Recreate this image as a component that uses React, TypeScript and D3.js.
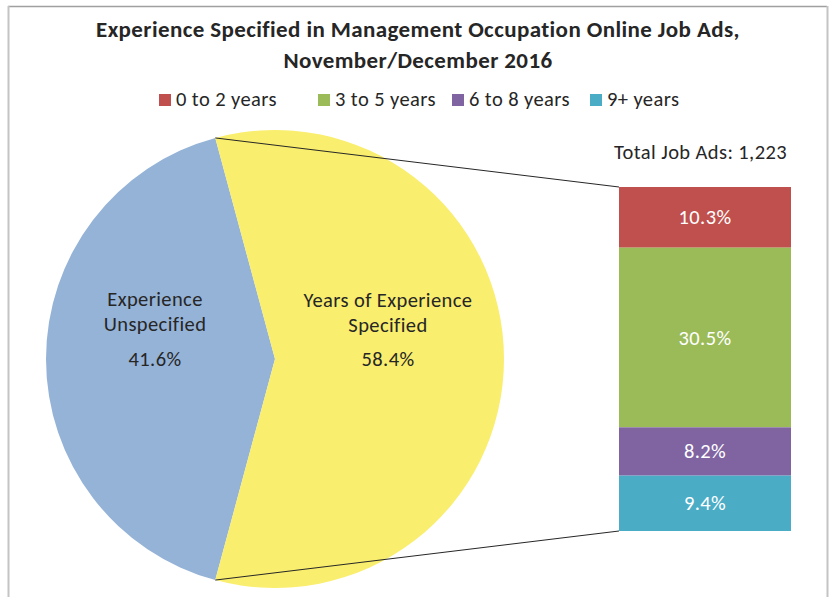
import React from "react";
import * as d3 from "d3";

const title1 = "Experience Specified in Management Occupation Online Job Ads,";
const title2 = "November/December 2016";
const pieLabels = [["Experience", "Unspecified"], ["Years of Experience", "Specified"]];
const pieValues = [41.6, 58.4];
const pieColors = ["#95B3D7", "#F9EE6E"];
const barCategories = ["0 to 2 years", "3 to 5 years", "6 to 8 years", "9+ years"];
const barValues = [10.3, 30.5, 8.2, 9.4];
const barColors = ["#C0504D", "#9BBB59", "#8064A2", "#4BACC6"];
const totalLabel = "Total Job Ads: 1,223";

const W = 831, H = 597;
const FONT = "Carlito, Lato, 'Open Sans', sans-serif";
const FS = 20.5;
const LS = 0.4;

export default function App() {
  const cx = 275, cy = 359, r = 229;
  const blueSpan = (pieValues[0] / 100) * 2 * Math.PI;
  const blueStart = 1.5 * Math.PI - blueSpan / 2;
  const arcs = d3.pie<number>().sort(null).startAngle(blueStart).endAngle(blueStart + 2 * Math.PI)(pieValues);
  const arcGen = d3.arc<d3.PieArcDatum<number>>().innerRadius(0).outerRadius(r);

  const barX0 = 619, barX1 = 791, barTop = 187, barBottom = 531;
  const sum = d3.sum(barValues);
  const y = d3.scaleLinear().domain([0, sum]).range([barTop, barBottom]);
  const cum = d3.cumsum(barValues);
  const segs = barValues.map((v, i) => ({ v, i, y0: y(cum[i] - v), y1: y(cum[i]) }));

  const aTop = arcs[0].endAngle;
  const aBot = arcs[0].startAngle;
  const pt = (a: number) => [cx + r * Math.sin(a), cy - r * Math.cos(a)];
  const pTop = pt(aTop), pBot = pt(aBot);

  const legendX = [159, 318, 452, 590];

  const labelPos = [
    { x: 155, lines: [305.5, 330.5], pct: 365.5 },
    { x: 388, lines: [307, 332], pct: 365.5 },
  ];

  return (
    <svg width={W} height={H} style={{ position: "absolute", left: 0, top: 0 }} fontFamily={FONT} letterSpacing={LS}>
      <rect x={0} y={0} width={W} height={H} fill="#fff" />
      <line x1={8} y1={6.5} x2={827} y2={6.5} stroke="#a0a0a0" strokeWidth={1.5} />
      <line x1={8.5} y1={6} x2={8.5} y2={H} stroke="#c4c4c4" strokeWidth={2} />
      <line x1={827.5} y1={6} x2={827.5} y2={H} stroke="#c4c4c4" strokeWidth={2} />

      <text x={418} y={37} textAnchor="middle" fontWeight="bold" fontSize={23} fill="#262626">{title1}</text>
      <text x={418} y={67.5} textAnchor="middle" fontWeight="bold" fontSize={23} fill="#262626">{title2}</text>

      {barCategories.map((c, i) => (
        <g key={c}>
          <rect x={legendX[i]} y={94} width={12} height={12} fill={barColors[i]} />
          <text x={legendX[i] + 17} y={106} fontSize={FS} fill="#262626">{c}</text>
        </g>
      ))}

      <g transform={`translate(${cx},${cy})`}>
        {arcs.map((a, i) => (
          <path key={i} d={arcGen(a) || ""} fill={pieColors[i]} />
        ))}
      </g>

      {pieLabels.map((ls, i) => (
        <g key={i} fontSize={FS} fill="#262626" textAnchor="middle">
          {ls.map((l, j) => (
            <text key={j} x={labelPos[i].x} y={labelPos[i].lines[j]}>{l}</text>
          ))}
          <text x={labelPos[i].x} y={labelPos[i].pct}>{pieValues[i].toFixed(1)}%</text>
        </g>
      ))}

      <line x1={pTop[0]} y1={pTop[1]} x2={barX0} y2={barTop} stroke="#262626" strokeWidth={1} />
      <line x1={pBot[0]} y1={pBot[1]} x2={barX0} y2={barBottom} stroke="#262626" strokeWidth={1} />

      {segs.map((s) => (
        <g key={s.i}>
          <rect x={barX0} y={s.y0} width={barX1 - barX0} height={s.y1 - s.y0} fill={barColors[s.i]} />
          <text x={(barX0 + barX1) / 2} y={(s.y0 + s.y1) / 2 + 7} textAnchor="middle" fontSize={FS} fill="#fff">
            {s.v.toFixed(1)}%
          </text>
        </g>
      ))}

      <text x={787} y={159} textAnchor="end" fontSize={FS} fill="#262626">{totalLabel}</text>
    </svg>
  );
}
